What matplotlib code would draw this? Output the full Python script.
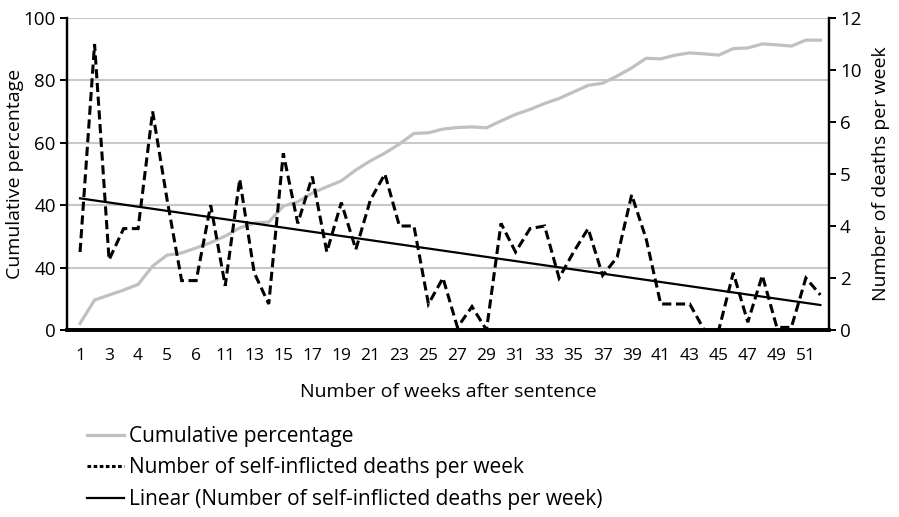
import matplotlib
matplotlib.use('Agg')
import matplotlib.pyplot as plt
from matplotlib.lines import Line2D
import numpy as np

plt.rcParams['font.family'] = ['Open Sans', 'DejaVu Sans']

# data
weeks = list(range(1, 53))
cumulative_pct = [2.1, 9.6, 11.2, 12.8, 14.6, 20.5, 24.0, 24.7, 26.3, 28.0,
                  30.1, 32.7, 34.3, 34.6, 39.7, 41.1, 43.9, 45.9, 47.8, 51.3,
                  54.2, 56.7, 59.6, 63.0, 63.2, 64.4, 64.9, 65.1, 64.8, 67.0,
                  69.1, 70.7, 72.6, 74.2, 76.3, 78.4, 79.1, 81.4, 84.0, 87.1,
                  86.9, 88.1, 88.8, 88.5, 88.1, 90.2, 90.4, 91.7, 91.4, 91.0,
                  92.9, 92.9]
deaths_per_week = [3.0, 11.0, 2.7, 3.9, 3.9, 8.4, 5.0, 1.9, 1.9, 4.8,
                   1.7, 5.8, 2.2, 1.0, 6.8, 4.1, 5.9, 3.0, 4.9, 3.1,
                   5.0, 6.0, 4.0, 4.0, 1.0, 2.0, 0.1, 0.9, 0.0, 4.1,
                   3.0, 3.9, 4.0, 2.0, 3.0, 3.9, 2.1, 2.8, 5.2, 3.5,
                   1.0, 1.0, 1.0, 0.0, 0.0, 2.2, 0.3, 2.1, 0.1, 0.1,
                   2.0, 1.35]

x_tick_weeks = list(range(1, 52, 2))
x_tick_labels = ['1', '3', '4', '5', '6', '11', '13', '15', '17', '19', '21',
                 '23', '25', '27', '29', '31', '33', '35', '37', '39', '41',
                 '43', '45', '47', '49', '51']
left_ticks = [0, 20, 40, 60, 80, 100]
left_tick_labels = ['0', '40', '40', '60', '80', '100']
right_ticks = [0, 2, 4, 6, 8, 10, 12]
right_tick_labels = ['0', '2', '4', '5', '6', '10', '12']

# linear trendline like excel
slope, intercept = np.polyfit(weeks, deaths_per_week, 1)
trend = [slope * w + intercept for w in weeks]

fig = plt.figure(figsize=(8.99, 5.17), dpi=100)
ax = fig.add_axes([0.0745, 0.3617, 0.8475, 0.6035])
ax2 = ax.twinx()

ax.plot(weeks, cumulative_pct, color='#c0c0c0', lw=2.3, solid_joinstyle='miter')
ax2.plot(weeks, deaths_per_week, color='black', lw=2.2, linestyle=(0, (3, 1.5)),
         dash_joinstyle='miter', dash_capstyle='butt')
ax2.plot(weeks, trend, color='black', lw=1.6)

ax.set_xlim(0.1, 52.585)
ax.set_ylim(0, 100)
ax2.set_ylim(0, 12)

ax.set_yticks(left_ticks)
ax.set_yticklabels(left_tick_labels)
ax2.set_yticks(right_ticks)
ax2.set_yticklabels(right_tick_labels)
ax.set_xticks(x_tick_weeks)
ax.set_xticklabels(x_tick_labels)

ax.grid(axis='y', color='#c8c8c8', lw=1.5)
ax.set_axisbelow(True)

for a in (ax, ax2):
    a.spines['top'].set_visible(False)
    a.spines['left'].set_linewidth(1.6)
    a.spines['right'].set_linewidth(1.6)
    a.spines['bottom'].set_linewidth(2.6)

ax.tick_params(axis='x', length=0, pad=13, labelsize=12.5)
ax.tick_params(axis='y', length=5, width=1.4, labelsize=13.5, pad=3)
ax2.tick_params(axis='y', length=5, width=1.4, labelsize=13.5, pad=3)

ax.set_xlabel('Number of weeks after sentence', fontsize=14, va='center')
ax.xaxis.set_label_coords(0.5, -0.199)
ax.set_ylabel('Cumulative percentage', fontsize=14, va='center')
ax.yaxis.set_label_coords(-0.068, 0.5)
ax2.set_ylabel('Number of deaths per week', fontsize=14, va='center')
ax2.yaxis.set_label_coords(1.068, 0.5)

handles = [Line2D([], [], color='#c0c0c0', lw=2.3),
           Line2D([], [], color='black', lw=2.2, linestyle=(0, (1.2, 0.8))),
           Line2D([], [], color='black', lw=1.6)]
labels = ['Cumulative percentage',
          'Number of self-inflicted deaths per week',
          'Linear (Number of self-inflicted deaths per week)']
fig.legend(handles, labels, loc='upper left', bbox_to_anchor=(0.097, 0.176),
           frameon=False, fontsize=15, handlelength=1.75, handletextpad=0.28,
           labelspacing=0.5, borderpad=0, borderaxespad=0)

plt.savefig('out.png', dpi=100)
